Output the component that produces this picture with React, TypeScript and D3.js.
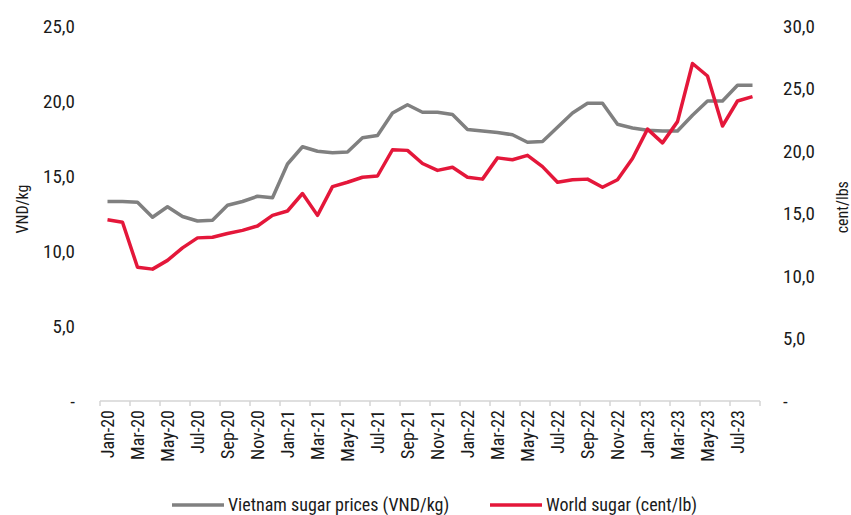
import * as d3 from 'd3';
import * as React from 'react';

const width = 851;
const height = 515;
const margin = { top: 26, right: 91, bottom: 114, left: 100 };
const font = '"Liberation Sans Narrow", "Arial Narrow", "Roboto Condensed", "DejaVu Sans Condensed", sans-serif';

const monthNames = ['Jan', 'Feb', 'Mar', 'Apr', 'May', 'Jun', 'Jul', 'Aug', 'Sep', 'Oct', 'Nov', 'Dec'];
const years = ['20', '21', '22', '23'];
const months: string[] = years
  .flatMap(y => monthNames.map(m => `${m}-${y}`))
  .slice(0, 44);

// Vietnam sugar prices, thousand VND/kg (left axis)
const vietnam = [
  13.3, 13.3, 13.25, 12.25, 12.95, 12.3, 12.0, 12.05, 13.05, 13.3, 13.65, 13.55,
  15.8, 16.95, 16.65, 16.55, 16.6, 17.55, 17.7, 19.2, 19.75, 19.25, 19.25, 19.1,
  18.1, 18.0, 17.9, 17.75, 17.25, 17.3, 18.25, 19.2, 19.85, 19.85, 18.45, 18.2,
  18.05, 18.0, 18.0, 19.05, 20.0, 20.0, 21.05, 21.05,
];

// World sugar, cent/lb (right axis)
const world = [
  14.5, 14.3, 10.7, 10.55, 11.25, 12.25, 13.05, 13.1, 13.4, 13.65, 14.0,
  14.85, 15.2, 16.6, 14.85, 17.15, 17.5, 17.9, 18.0, 20.1, 20.05, 19.0, 18.45,
  18.7, 17.9, 17.75, 19.45, 19.3, 19.65, 18.75, 17.5, 17.7, 17.75, 17.1, 17.7,
  19.4, 21.75, 20.65, 22.35, 27.0, 26.0, 22.0, 24.0, 24.35,
];

const leftTicks = [0, 5, 10, 15, 20, 25];
const rightTicks = [0, 5, 10, 15, 20, 25, 30];

const fmt = (v: number) => (v === 0 ? '-' : v.toFixed(1).replace('.', ','));

export default function App() {
  const x = d3
    .scaleBand<string>()
    .domain(months)
    .range([margin.left, width - margin.right]);
  const yL = d3.scaleLinear().domain([0, 25]).range([height - margin.bottom, margin.top]);
  const yR = d3.scaleLinear().domain([0, 30]).range([height - margin.bottom, margin.top]);
  const cx = (m: string) => (x(m) as number) + x.bandwidth() / 2;
  const base = height - margin.bottom;

  const lineL = d3
    .line<number>()
    .x((_, i) => cx(months[i]))
    .y(d => yL(d));
  const lineR = d3
    .line<number>()
    .x((_, i) => cx(months[i]))
    .y(d => yR(d));

  // tick marks every second category boundary
  const tickXs = months
    .filter((_, i) => i % 2 === 0)
    .map(m => x(m) as number)
    .concat(width - margin.right);

  return (
    <svg
      width={width}
      height={height}
      style={{ position: 'absolute', left: 0, top: 0, background: '#fff' }}
      fontFamily={font}
    >
      {/* x axis */}
      <line x1={margin.left} x2={width - margin.right} y1={base} y2={base} stroke="#d4d4d4" strokeWidth={1.5} />
      {tickXs.map((t, i) => (
        <line key={i} x1={t} x2={t} y1={base} y2={base + 5} stroke="#d4d4d4" strokeWidth={1.5} />
      ))}
      {months
        .filter((_, i) => i % 2 === 0)
        .map(m => (
          <text
            key={m}
            transform={`translate(${cx(m)},${base + 9}) rotate(-90)`}
            textAnchor="end"
            dy="0.35em"
            fontSize={18}
            fill="#1a1a1a"
          >
            {m}
          </text>
        ))}

      {/* left axis */}
      {leftTicks.map(t => (
        <text key={t} x={75} y={yL(t)} dy="0.35em" textAnchor="end" fontSize={19} fill="#1a1a1a">
          {fmt(t)}
        </text>
      ))}
      <text transform={`translate(22,${yL(12.8)}) rotate(-90)`} textAnchor="middle" dy="0.35em" fontSize={16} fill="#1a1a1a">
        VND/kg
      </text>

      {/* right axis */}
      {rightTicks.map(t => (
        <text key={t} x={783} y={yR(t)} dy="0.35em" textAnchor="start" fontSize={19} fill="#1a1a1a">
          {fmt(t)}
        </text>
      ))}
      <text transform={`translate(842,${yR(15.5)}) rotate(-90)`} textAnchor="middle" dy="0.35em" fontSize={16} fill="#1a1a1a">
        cent/lbs
      </text>

      {/* series */}
      <path d={lineL(vietnam) as string} fill="none" stroke="#808080" strokeWidth={3.5} strokeLinejoin="round" />
      <path d={lineR(world) as string} fill="none" stroke="#e4173a" strokeWidth={3.5} strokeLinejoin="round" />

      {/* legend */}
      <g transform="translate(0,505)">
        <line x1={172} x2={224} y1={0} y2={0} stroke="#808080" strokeWidth={3.5} />
        <text x={228} dy="0.35em" fontSize={18} fill="#1a1a1a">
          Vietnam sugar prices (VND/kg)
        </text>
        <line x1={490} x2={542} y1={0} y2={0} stroke="#e4173a" strokeWidth={3.5} />
        <text x={546} dy="0.35em" fontSize={18} fill="#1a1a1a">
          World sugar (cent/lb)
        </text>
      </g>
    </svg>
  );
}
